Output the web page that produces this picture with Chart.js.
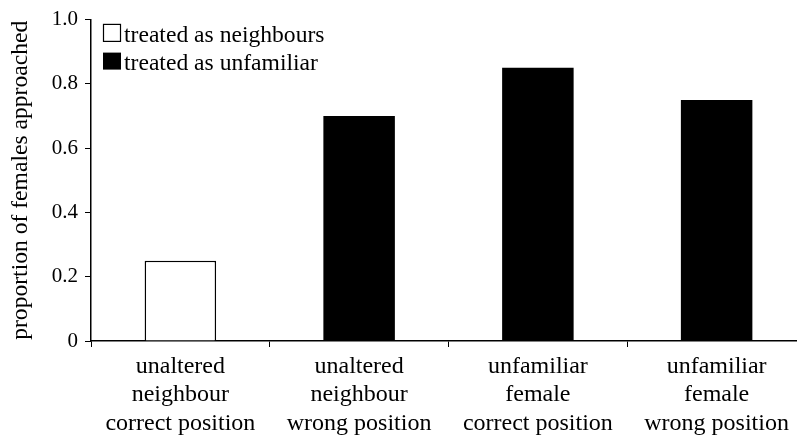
<!DOCTYPE html>
<html>
<head>
<meta charset="utf-8">
<script src="https://cdn.jsdelivr.net/npm/chart.js@4.4.0/dist/chart.umd.min.js"></script>
<style>
  html, body { margin: 0; padding: 0; background: #fff; overflow: hidden; }
  #wrap { width: 812px; height: 439px; }
</style>
</head>
<body>
<div id="wrap"><canvas id="bars"></canvas></div>
<script>
var categories = [
    ['unaltered', 'neighbour', 'correct position'],
    ['unaltered', 'neighbour', 'wrong position'],
    ['unfamiliar', 'female', 'correct position'],
    ['unfamiliar', 'female', 'wrong position']
];
var treatedAsNeighbours = [0.25, null, null, null];
var treatedAsUnfamiliar = [null, 0.70, 0.85, 0.75];
var yTicks = [0, 0.2, 0.4, 0.6, 0.8, 1.0];

var serif = '"Liberation Serif", "Times New Roman", serif';
Chart.defaults.font.family = serif;
Chart.defaults.color = '#000';

// legend drawn as two stacked rows in the top-left corner of the plot
var stackedLegend = {
    id: 'stackedLegend',
    afterDraw: function(chart) {
        var c = chart.ctx;
        var area = chart.chartArea;
        c.save();
        c.font = '23.6px ' + serif;
        c.textBaseline = 'alphabetic';
        c.fillStyle = '#000';
        chart.data.datasets.forEach(function(ds, i) {
            var base = area.top + 22.3 + i * 27.7;
            var bx = area.left + 12;
            if (ds.backgroundColor === '#000') {
                c.fillStyle = '#000';
                c.fillRect(bx, base - 17, 18, 17);
            } else {
                c.strokeStyle = '#000';
                c.lineWidth = 1.2;
                c.strokeRect(bx + 0.5, base - 17.5, 17, 17);
            }
            c.fillStyle = '#000';
            c.fillText(ds.label, area.left + 33, base);
        });
        c.restore();
    }
};

var ctx = document.getElementById('bars').getContext('2d');
var myChart = new Chart(ctx, {
    type: 'bar',
    data: {
        labels: categories,
        datasets: [{
            label: 'treated as neighbours',
            data: treatedAsNeighbours,
            backgroundColor: '#fff',
            borderColor: '#000',
            borderWidth: 1.5
        }, {
            label: 'treated as unfamiliar',
            data: treatedAsUnfamiliar,
            backgroundColor: '#000',
            borderColor: '#000',
            borderWidth: 0
        }]
    },
    plugins: [stackedLegend],
    options: {
        responsive: true,
        maintainAspectRatio: false,
        animation: false,
        grouped: false,
        barPercentage: 0.4,
        categoryPercentage: 1.0,
        layout: { padding: { top: 16, right: 6, left: 0, bottom: 0 } },
        plugins: {
            tooltip: { enabled: false },
            legend: { display: false }
        },
        scales: {
            x: {
                grid: { drawOnChartArea: false, drawTicks: true, tickLength: 6, color: '#000' },
                border: { display: true, color: '#000', width: 1.5 },
                ticks: { font: { size: 24, lineHeight: 1.196 }, padding: 5, maxRotation: 0, autoSkip: false, color: '#000' },
                afterFit: function(scale) { scale.height = 98; }
            },
            y: {
                min: 0,
                max: 1,
                afterBuildTicks: function(scale) {
                    scale.ticks = yTicks.map(function(v) { return { value: v }; });
                },
                grid: { drawOnChartArea: false, drawTicks: true, tickLength: 6, color: '#000' },
                border: { display: true, color: '#000', width: 1.5 },
                ticks: {
                    font: { size: 21 },
                    padding: 7,
                    color: '#000',
                    callback: function(v) { return v === 0 ? '0' : v.toFixed(1); }
                },
                title: {
                    display: true,
                    text: 'proportion of females approached',
                    font: { size: 23.6 },
                    padding: { top: 7, bottom: 0 },
                    color: '#000'
                },
                afterFit: function(scale) { scale.width = 91; }
            }
        }
    }
});
</script>
</body>
</html>
